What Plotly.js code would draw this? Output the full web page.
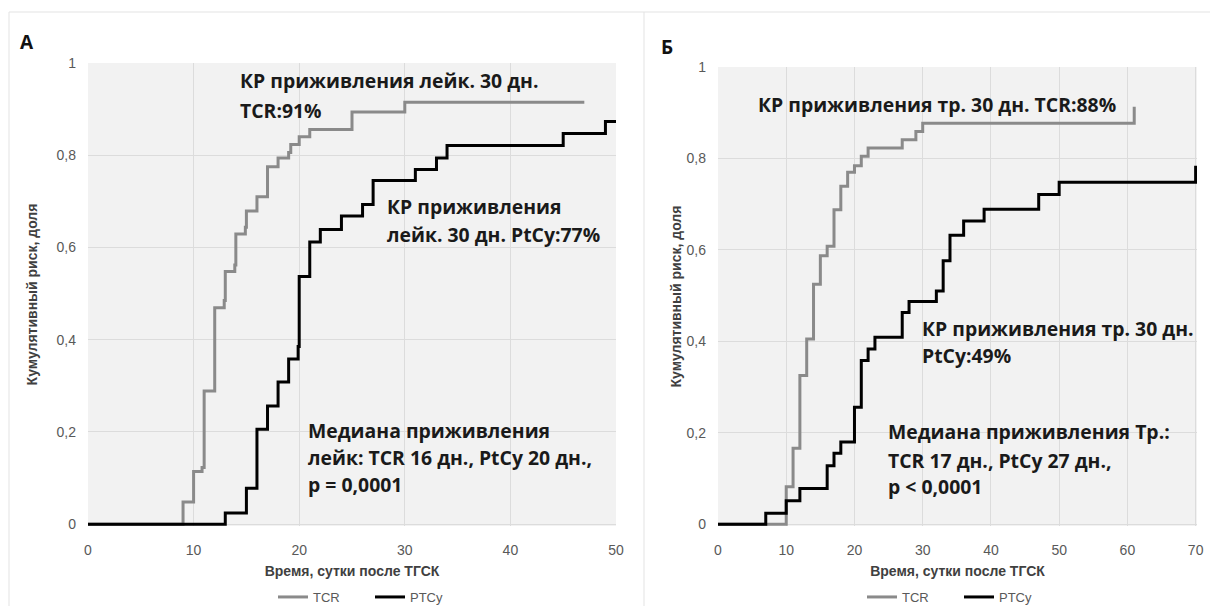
<!DOCTYPE html>
<html>
<head>
<meta charset="utf-8">
<script src="https://cdn.plot.ly/plotly-3.0.1.min.js"></script>
<style>html,body{margin:0;padding:0;background:#fff;}#chart{width:1210px;height:606px;}</style>
</head>
<body>
<div id="chart"></div>
<script>
// Panel A (leukocyte engraftment), days after HSCT
const tcrA_t = [0, 9, 10, 10.8, 11, 12, 12.9, 13, 13.9, 14, 14.9, 15, 16, 17, 18, 19, 19.2, 20, 21, 25, 30, 47];
const tcrA_v = [0, 0.048, 0.114, 0.123, 0.289, 0.469, 0.485, 0.548, 0.562, 0.629, 0.644, 0.679, 0.710, 0.775, 0.794, 0.806, 0.823, 0.840, 0.856, 0.894, 0.915, 0.915];
const ptcyA_t = [0, 13, 15, 16, 17, 18, 19, 19.9, 20, 21, 22, 24, 26, 27, 31, 33, 34, 45, 49, 50];
const ptcyA_v = [0, 0.024, 0.078, 0.206, 0.256, 0.308, 0.358, 0.385, 0.537, 0.612, 0.639, 0.668, 0.693, 0.745, 0.769, 0.794, 0.821, 0.847, 0.873, 0.873];
// Panel B (platelet engraftment)
const tcrB_t = [0, 10, 11, 12, 13, 14, 15, 16, 17, 18, 19, 20, 21, 22, 27, 29, 30, 61];
const tcrB_v = [0, 0.082, 0.166, 0.325, 0.405, 0.525, 0.587, 0.608, 0.688, 0.739, 0.770, 0.784, 0.805, 0.823, 0.841, 0.859, 0.877, 0.913];
const ptcyB_t = [0, 7, 10, 12, 16, 17, 18, 20, 21, 22, 23, 27, 28, 32, 33, 34, 36, 39, 47, 50, 70];
const ptcyB_v = [0, 0.024, 0.051, 0.078, 0.128, 0.155, 0.180, 0.256, 0.358, 0.383, 0.409, 0.463, 0.487, 0.510, 0.576, 0.632, 0.663, 0.689, 0.721, 0.748, 0.784];

const seriesNames = ['TCR', 'PTCy'];
const yTickVals = [0, 0.2, 0.4, 0.6, 0.8, 1];
const yTickText = ['0', '0,2', '0,4', '0,6', '0,8', '1'];
const xTitle = 'Время, сутки после ТГСК';
const yTitle = 'Кумулятивный риск, доля';

const GRAY = '#8a8a8a', BLACK = '#000000';
const tickFont = {family: 'Liberation Sans, Arial, sans-serif', size: 14, color: '#595959'};
const titleFont = {family: 'Liberation Sans, Arial, sans-serif', size: 14, color: '#404040'};
const annFont = {family: 'Open Sans, sans-serif', size: 19.4, color: '#1a1a1a'};

const traces = [
  {x: tcrA_t, y: tcrA_v, xaxis: 'x', yaxis: 'y', name: seriesNames[0], legend: 'legend', mode: 'lines', line: {shape: 'hv', color: GRAY, width: 3}},
  {x: ptcyA_t, y: ptcyA_v, xaxis: 'x', yaxis: 'y', name: seriesNames[1], legend: 'legend', mode: 'lines', line: {shape: 'hv', color: BLACK, width: 3}},
  {x: tcrB_t, y: tcrB_v, xaxis: 'x2', yaxis: 'y2', name: seriesNames[0], legend: 'legend2', mode: 'lines', line: {shape: 'hv', color: GRAY, width: 3}},
  {x: ptcyB_t, y: ptcyB_v, xaxis: 'x2', yaxis: 'y2', name: seriesNames[1], legend: 'legend2', mode: 'lines', line: {shape: 'hv', color: BLACK, width: 3}}
];

function xAx(domain, range, anchor) {
  return {domain: domain, range: range, anchor: anchor, dtick: 10, tick0: 0, showgrid: true, gridcolor: '#dcdcdc', gridwidth: 1,
    zeroline: false, showline: false, ticks: '', tickfont: tickFont, ticklabelstandoff: 14, automargin: false,
    title: {text: '<b>' + xTitle + '</b>', font: titleFont, standoff: 9}};
}
function yAx(domain, anchor, standoff) {
  return {domain: domain, range: [-0.004, 1], anchor: anchor, tickvals: yTickVals, ticktext: yTickText, showgrid: true, gridcolor: '#dcdcdc',
    zeroline: false, showline: false, ticks: '', tickfont: tickFont, ticklabelstandoff: 11, automargin: false,
    title: {text: '<b>' + yTitle + '</b>', font: titleFont, standoff: standoff}};
}

function ann(text, x, y, xref, yref) {
  return {text: '<b>' + text + '</b>', x: x, y: y, xref: xref, yref: yref, xanchor: 'left', yanchor: 'middle', showarrow: false, font: annFont};
}

const annotations = [
  ann('КР приживления лейк. 30 дн.', 14.2, 0.962, 'x', 'y'),
  ann('TCR:91%', 14.2, 0.898, 'x', 'y'),
  ann('КР приживления', 28.1, 0.689, 'x', 'y'),
  ann('лейк. 30 дн. PtCy:77%', 28.1, 0.628, 'x', 'y'),
  ann('Медиана приживления', 20.6, 0.203, 'x', 'y'),
  ann('лейк: TCR 16 дн., PtCy 20 дн.,', 20.6, 0.145, 'x', 'y'),
  ann('p = 0,0001', 20.6, 0.086, 'x', 'y'),
  ann('КР приживления тр. 30 дн. TCR:88%', 5.5, 0.917, 'x2', 'y2'),
  ann('КР приживления тр. 30 дн.', 29.6, 0.427, 'x2', 'y2'),
  ann('PtCy:49%', 29.6, 0.368, 'x2', 'y2'),
  ann('Медиана приживления Тр.:', 24.6, 0.203, 'x2', 'y2'),
  ann('TCR 17 дн., PtCy 27 дн.,', 24.6, 0.139, 'x2', 'y2'),
  ann('p < 0,0001', 24.6, 0.083, 'x2', 'y2'),
  {text: '<b>А</b>', x: 27 / 1210, y: 1 - 42 / 606, xref: 'paper', yref: 'paper', xanchor: 'center', yanchor: 'middle', showarrow: false,
    font: {family: 'Open Sans, sans-serif', size: 19, color: '#111'}},
  {text: '<b>Б</b>', x: 667 / 1210, y: 1 - 47 / 606, xref: 'paper', yref: 'paper', xanchor: 'center', yanchor: 'middle', showarrow: false,
    font: {family: 'Open Sans, sans-serif', size: 19, color: '#111'}}
];

const borderColor = '#e3e3e3';
const shapes = [
  {type: 'line', xref: 'paper', yref: 'paper', x0: 9 / 1210, x1: 1, y0: 1 - 12 / 606, y1: 1 - 12 / 606, line: {color: borderColor, width: 1}},
  {type: 'line', xref: 'paper', yref: 'paper', x0: 9 / 1210, x1: 9 / 1210, y0: 0, y1: 1 - 12 / 606, line: {color: borderColor, width: 1}},
  {type: 'line', xref: 'paper', yref: 'paper', x0: 644 / 1210, x1: 644 / 1210, y0: 0, y1: 1 - 12 / 606, line: {color: borderColor, width: 1}}
];

const legendBase = {orientation: 'h', yanchor: 'middle', y: 1 - 597 / 606, xanchor: 'center', bgcolor: 'rgba(0,0,0,0)',
  font: {family: 'Liberation Sans, Arial, sans-serif', size: 13, color: '#595959'}, itemwidth: 30, entrywidth: 52, tracegroupgap: 0};

const layout = {
  width: 1210, height: 606,
  margin: {l: 0, r: 0, t: 0, b: 0, pad: 0, autoexpand: false},
  paper_bgcolor: '#ffffff', plot_bgcolor: '#f2f2f2',
  separators: ', ',
  xaxis: xAx([88 / 1210, 616 / 1210], [0, 50], 'y'),
  yaxis: yAx([80 / 606, 543 / 606], 'x', 15),
  xaxis2: xAx([718 / 1210, 1197 / 1210], [0, 70.2], 'y2'),
  yaxis2: yAx([80 / 606, 539 / 606], 'x2', 1),
  legend: Object.assign({}, legendBase, {x: 370 / 1210}),
  legend2: Object.assign({}, legendBase, {x: 959 / 1210}),
  annotations: annotations,
  shapes: shapes,
  showlegend: true
};

Plotly.newPlot('chart', traces, layout, {displayModeBar: false, staticPlot: true});
</script>
</body>
</html>
